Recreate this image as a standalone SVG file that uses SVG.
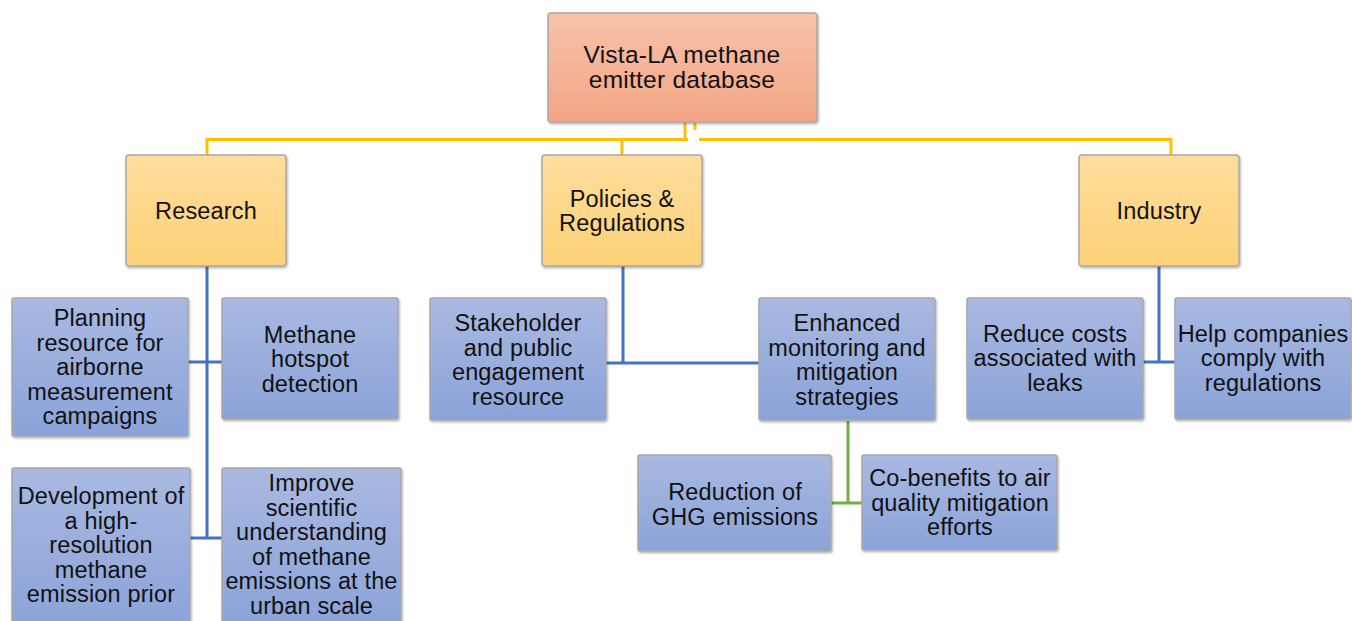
<svg xmlns="http://www.w3.org/2000/svg" width="1352" height="621" viewBox="0 0 1352 621">
<defs>
<linearGradient id="gRoot" x1="0" y1="0" x2="0" y2="1"><stop offset="0" stop-color="#f7c3ab"/><stop offset="1" stop-color="#f3a585"/></linearGradient>
<linearGradient id="gCat" x1="0" y1="0" x2="0" y2="1"><stop offset="0" stop-color="#fedd9d"/><stop offset="1" stop-color="#fdd177"/></linearGradient>
<linearGradient id="gLeaf" x1="0" y1="0" x2="0" y2="1"><stop offset="0" stop-color="#a9b9e1"/><stop offset="1" stop-color="#8ba3d9"/></linearGradient>
<filter id="sh" x="-10%" y="-10%" width="125%" height="125%"><feDropShadow dx="1" dy="1.5" stdDeviation="1" flood-color="#000" flood-opacity="0.3"/></filter>
</defs>
<style>
.box{stroke:#a8a8a8;stroke-width:1.5;filter:url(#sh)}
.root{fill:url(#gRoot)}
.cat{fill:url(#gCat)}
.leaf{fill:url(#gLeaf)}
text{font-family:"Liberation Sans",Arial,sans-serif;font-size:23.5px;letter-spacing:0.15px;fill:#111;text-anchor:middle}
.big{font-size:24.5px;letter-spacing:0.25px}
.y{stroke:#ffc000;stroke-width:3;fill:none}
.b{stroke:#4472c4;stroke-width:3;fill:none}
.g{stroke:#70ad47;stroke-width:3;fill:none}
</style>
<rect width="1352" height="621" fill="#fff"/>
<g id="connectors">
<path class="y" d="M685 122V139.5M207 155V139.5H688M699 139.5H1171V155M622 139.5V155"/>
<path class="y" d="M695 122V130" stroke-width="2"/>
<path class="b" d="M207 266V538M188 362H222M190 538H222"/>
<path class="b" d="M623 266V363M606 363H759"/>
<path class="b" d="M1159 266V362M1143 362H1175"/>
<path class="g" d="M848 421V503M831 503H862"/>
</g>
<g id="root"><rect class="box root" x="548" y="13" width="269" height="109" rx="3"/><text class="big" x="682" y="63">Vista-LA methane</text><text class="big" x="682" y="88">emitter database</text></g>
<g id="research"><rect class="box cat" x="126" y="155" width="160" height="111" rx="3"/><text x="206" y="219">Research</text></g>
<g id="policies"><rect class="box cat" x="542" y="155" width="160" height="111" rx="3"/><text x="622" y="207">Policies &amp;</text><text x="622" y="231">Regulations</text></g>
<g id="industry"><rect class="box cat" x="1079" y="155" width="160" height="111" rx="3"/><text x="1159" y="219">Industry</text></g>
<g id="planning"><rect class="box leaf" x="12" y="298" width="176" height="138" rx="2"/><text x="100" y="326">Planning</text><text x="100" y="350.5">resource for</text><text x="100" y="375">airborne</text><text x="100" y="399.5">measurement</text><text x="100" y="424">campaigns</text></g>
<g id="hotspot"><rect class="box leaf" x="222" y="298" width="176" height="121" rx="2"/><text x="310" y="343">Methane</text><text x="310" y="367">hotspot</text><text x="310" y="392">detection</text></g>
<g id="development"><rect class="box leaf" x="12" y="468" width="178" height="160" rx="2"/><text x="101" y="504">Development of</text><text x="101" y="528.5">a high-</text><text x="101" y="553">resolution</text><text x="101" y="577.5">methane</text><text x="101" y="602">emission prior</text></g>
<g id="improve"><rect class="box leaf" x="222" y="468" width="179" height="160" rx="2"/><text x="311.5" y="491">Improve</text><text x="311.5" y="515.5">scientific</text><text x="311.5" y="540">understanding</text><text x="311.5" y="564.5">of methane</text><text x="311.5" y="589">emissions at the</text><text x="311.5" y="613.5">urban scale</text></g>
<g id="stakeholder"><rect class="box leaf" x="430" y="298" width="176" height="122" rx="2"/><text x="518" y="331">Stakeholder</text><text x="518" y="355.5">and public</text><text x="518" y="380">engagement</text><text x="518" y="404.5">resource</text></g>
<g id="enhanced"><rect class="box leaf" x="759" y="298" width="176" height="122" rx="2"/><text x="847" y="331">Enhanced</text><text x="847" y="355.5">monitoring and</text><text x="847" y="380">mitigation</text><text x="847" y="404.5">strategies</text></g>
<g id="reduction"><rect class="box leaf" x="638" y="455" width="193" height="96" rx="2"/><text x="735" y="500">Reduction of</text><text x="735" y="524.5">GHG emissions</text></g>
<g id="cobenefits"><rect class="box leaf" x="862" y="455" width="195" height="95" rx="2"/><text x="960" y="486">Co-benefits to air</text><text x="960" y="510.5">quality mitigation</text><text x="960" y="535">efforts</text></g>
<g id="reducecosts"><rect class="box leaf" x="967" y="298" width="176" height="121" rx="2"/><text x="1055" y="342">Reduce costs</text><text x="1055" y="366">associated with</text><text x="1055" y="390.5">leaks</text></g>
<g id="helpcompanies"><rect class="box leaf" x="1175" y="298" width="176" height="121" rx="2"/><text x="1263" y="342">Help companies</text><text x="1263" y="366">comply with</text><text x="1263" y="390.5">regulations</text></g>
</svg>
